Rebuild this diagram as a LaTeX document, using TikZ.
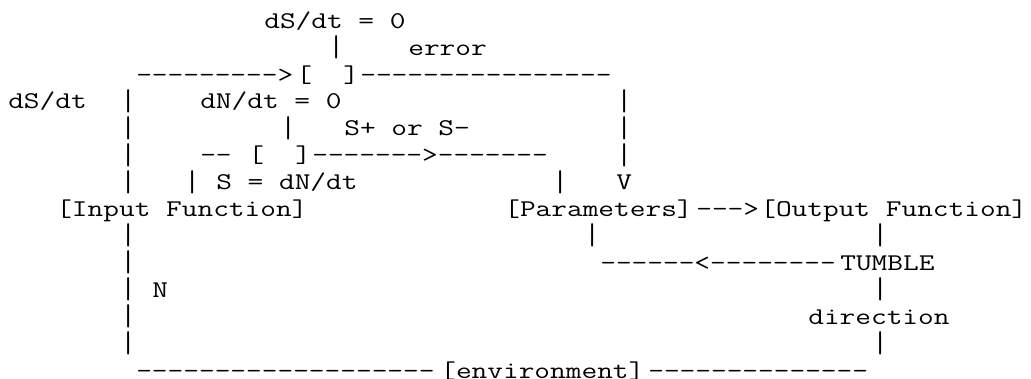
\documentclass[tikz,border=0pt]{standalone}
\usepackage{tikz}
\newcommand\hyph[1]{\foreach\k in {1,...,#1}{-\kern0pt}}

\begin{document}
\begin{tikzpicture}[x=8pt, y=-13.45pt,
    txt/.style={anchor=base west, inner sep=0pt, outer sep=0pt, font=\ttfamily\fontsize{12}{12}\selectfont, xscale=1.27},
    bar/.style={txt, yscale=1.25, yshift=-0.6pt}]
  \useasboundingbox (-4.15pt,0.7pt) rectangle (511.35pt,-188.8pt);
  % error loop
  \node[txt] (dsz) at (16,1) {dS/dt = 0};
  \node[bar] (errtick) at (20,2) {|};
  \node[txt] (errlbl) at (25,2) {error};
  \node[txt] (fbin) at (8,3) {\hyph{9}>};
  \node[txt] (errbox) at (18,3) {[\ \ ]};
  \node[txt] (errout) at (22,3) {\hyph{16}};
  \node[txt] (dsdt) at (0,4) {dS/dt};
  \node[txt] (dnz) at (12,4) {dN/dt = 0};
  \node[bar] (errv4) at (38,4) {|};
  \node[bar] (errv5) at (38,5) {|};
  \node[bar] (errv6) at (38,6) {|};
  \node[txt] (errhead) at (38,7) {V};
  % sign loop
  \node[bar] (signtick) at (17,5) {|};
  \node[txt] (signlbl) at (21,5) {S+ or S-};
  \node[txt] (signin) at (12,6) {\hyph{2}};
  \node[txt] (signbox) at (15,6) {[\ \ ]};
  \node[txt] (signout) at (19,6) {\hyph{7}>\hyph{7}};
  \node[bar] (sbar) at (11,7) {|};
  \node[txt] (slbl) at (13,7) {S = dN/dt};
  \node[bar] (parv) at (34,7) {|};
  % main row
  \node[txt] (input) at (3,8) {[Input Function]};
  \node[txt] (params) at (31,8) {[Parameters]};
  \node[txt] (parout) at (43,8) {\hyph{3}>};
  \node[txt] (output) at (47,8) {[Output Function]};
  % left bar
  \node[bar] (inv4) at (7,4) {|};
  \node[bar] (inv5) at (7,5) {|};
  \node[bar] (inv6) at (7,6) {|};
  \node[bar] (inv7) at (7,7) {|};
  \node[bar] (inv9) at (7,9) {|};
  \node[bar] (inv10) at (7,10) {|};
  \node[bar] (inv11) at (7,11) {|};
  \node[bar] (inv12) at (7,12) {|};
  \node[bar] (inv13) at (7,13) {|};
  \node[txt] (nlbl) at (9,11) {N};
  % tumble loop
  \node[bar] (parv9) at (36,9) {|};
  \node[bar] (outv9) at (54,9) {|};
  \node[txt] (tumbleline) at (37,10) {\hyph{6}<\hyph{8}};
  \node[txt] (tumble) at (52,10) {TUMBLE};
  \node[bar] (tumv11) at (54,11) {|};
  \node[txt] (dir) at (50,12) {direction};
  \node[bar] (dirv13) at (54,13) {|};
  % environment
  \node[txt] (envin) at (8,14) {\hyph{19}};
  \node[txt] (env) at (27,14) {[environment]};
  \node[txt] (envout) at (40,14) {\hyph{14}};
\end{tikzpicture}
\end{document}
